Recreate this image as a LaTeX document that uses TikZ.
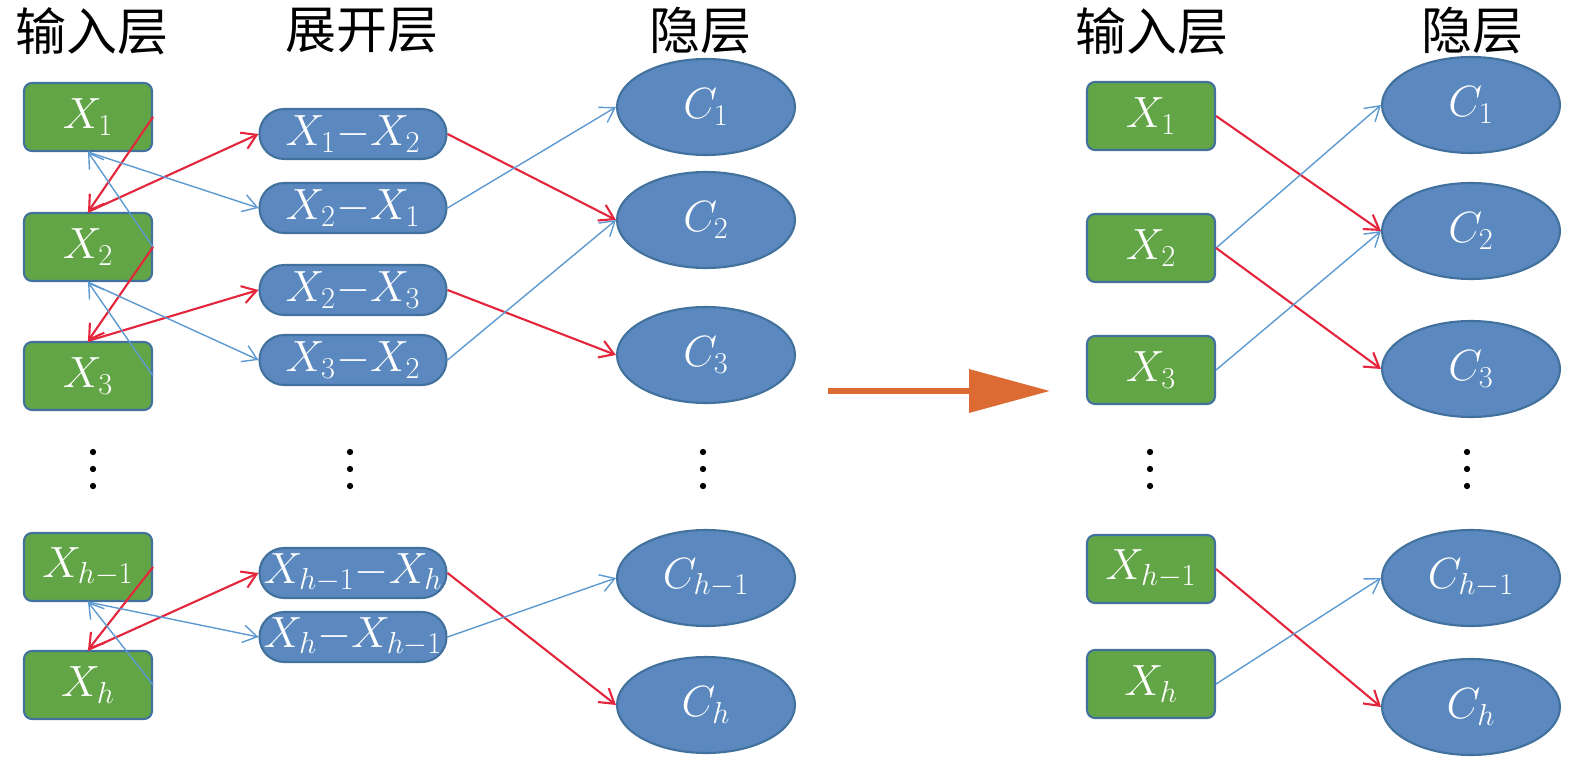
\documentclass[tikz,border=0pt]{standalone}
\usepackage{fontspec}
\newfontfamily\cjk{Noto Sans CJK SC}
\usetikzlibrary{arrows.meta,shapes.geometric}

\definecolor{boxgreen}{HTML}{62A546}
\definecolor{nodeblue}{HTML}{5A88BF}
\definecolor{rimblue}{HTML}{41719C}
\definecolor{linkred}{HTML}{E4263C}
\definecolor{linkblue}{HTML}{5E9AD2}
\definecolor{bigarrow}{HTML}{DB6A33}

\tikzset{
  inbox/.style={draw=rimblue, line width=1.2pt, fill=boxgreen, rounded corners=4.5pt,
    minimum width=2.56cm, minimum height=1.36cm, inner sep=0pt, text=white,
    font=\fontsize{27}{30}\selectfont},
  pairbox/.style={draw=rimblue, line width=1.2pt, fill=nodeblue, rounded corners=14pt,
    minimum width=3.74cm, minimum height=1cm, inner sep=0pt, text=white,
    font=\fontsize{26}{30}\selectfont},
  hidden/.style={ellipse, draw=rimblue, line width=1.2pt, fill=nodeblue,
    minimum width=3.56cm, minimum height=1.92cm, inner sep=0pt, text=white,
    font=\fontsize{27}{30}\selectfont},
  layername/.style={font=\cjk\fontsize{29}{32}\selectfont},
  redlink/.style={draw=linkred, line width=1.2pt, -{Straight Barb[length=8pt,width=10pt]}},
  bluelink/.style={draw=linkblue, line width=0.8pt, -{Straight Barb[length=8pt,width=10pt]}}
}

\begin{document}
\begin{tikzpicture}[x=0.02cm, y=-0.02cm]
\useasboundingbox (0,0) rectangle (1575,770);

% 标题
\node[layername] (t1) at (92,31) {输入层};
\node[layername] (t2) at (362,31) {展开层};
\node[layername] (t3) at (700,31) {隐层};
\node[layername] (t4) at (1152,31) {输入层};
\node[layername] (t5) at (1472,31) {隐层};

% 左: 输入层
\node[inbox] (x1) at (88,117) {$X_1$};
\node[inbox] (x2) at (88,247) {$X_2$};
\node[inbox] (x3) at (88,376) {$X_3$};
\node[inbox] (xa) at (88,567) {$X_{h-1}$};
\node[inbox] (xh) at (88,685) {$X_h$};

% 左: 展开层
\node[pairbox] (d12) at (353,134) {$X_1{-}X_2$};
\node[pairbox] (d21) at (353,208) {$X_2{-}X_1$};
\node[pairbox] (d23) at (353,290) {$X_2{-}X_3$};
\node[pairbox] (d32) at (353,360) {$X_3{-}X_2$};
\node[pairbox] (dah) at (353,573) {$X_{h-1}{-}X_h$};
\node[pairbox] (dha) at (353,637) {$X_h{-}X_{h-1}$};

% 左: 隐层
\node[hidden] (c1) at (706,107) {$C_1$};
\node[hidden] (c2) at (706,220) {$C_2$};
\node[hidden] (c3) at (706,355) {$C_3$};
\node[hidden] (ca) at (706,578) {$C_{h-1}$};
\node[hidden] (ch) at (706,705) {$C_h$};

% 右
\node[inbox] (rx1) at (1151,116) {$X_1$};
\node[inbox] (rx2) at (1151,248) {$X_2$};
\node[inbox] (rx3) at (1151,370) {$X_3$};
\node[inbox] (rxa) at (1151,569) {$X_{h-1}$};
\node[inbox] (rxh) at (1151,684) {$X_h$};

\node[hidden] (rc1) at (1471,105) {$C_1$};
\node[hidden] (rc2) at (1471,231) {$C_2$};
\node[hidden] (rc3) at (1471,369) {$C_3$};
\node[hidden] (rca) at (1471,578) {$C_{h-1}$};
\node[hidden] (rch) at (1471,707) {$C_h$};

% 省略号
\foreach \x in {93,350,703,1150,1467}
  \foreach \y in {452,469,486}
    \fill (\x,\y) circle[radius=1.8pt];

% 输入层 -> 展开层
\foreach \a/\b/\p/\q in {x1/x2/d12/d21, x2/x3/d23/d32, xa/xh/dah/dha}{
  \draw[redlink] (\a.east) -- (\b.north);
  \draw[redlink] (\b.north) -- (\p.west);
  \draw[bluelink] (\b.east) -- (\a.south);
  \draw[bluelink] (\a.south) -- (\q.west);
}

% 展开层 -> 隐层
\draw[redlink] (d12.east) -- (c2.west);
\draw[bluelink] (d21.east) -- (c1.west);
\draw[redlink] (d23.east) -- (c3.west);
\draw[bluelink] (d32.east) -- (c2.west);
\draw[redlink] (dah.east) -- (ch.west);
\draw[bluelink] (dha.east) -- (ca.west);

% 右: 输入层 -> 隐层
\draw[redlink] (rx1.east) -- (rc2.west);
\draw[bluelink] (rx2.east) -- (rc1.west);
\draw[redlink] (rx2.east) -- (rc3.west);
\draw[bluelink] (rx3.east) -- (rc2.west);
\draw[redlink] (rxa.east) -- (rch.west);
\draw[bluelink] (rxh.east) -- (rca.west);

% 大箭头
\coordinate (go) at (828,391);
\coordinate (to) at (1050,391);
\draw[bigarrow, line width=3.4pt, -{Triangle[length=46pt,width=24pt]}] (go) -- (to);

\end{tikzpicture}
\end{document}
